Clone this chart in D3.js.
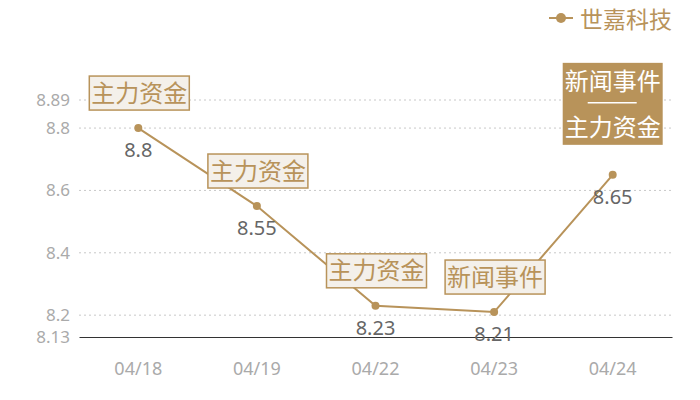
<!DOCTYPE html>
<html>
<head>
<meta charset="utf-8">
<script src="https://cdn.jsdelivr.net/npm/d3@7"></script>
<style>
  body { margin: 0; background: #fff; }
  svg { font-family: "Noto Sans CJK SC", "Noto Sans", sans-serif; }
</style>
</head>
<body>
<div id="chart"></div>
<script>
const dates = ["04/18", "04/19", "04/22", "04/23", "04/24"];
const prices = [8.8, 8.55, 8.23, 8.21, 8.65];
const notes = [["主力资金"], ["主力资金"], ["主力资金"], ["新闻事件"], ["新闻事件", "主力资金"]];
const yTicks = [8.13, 8.2, 8.4, 8.6, 8.8, 8.89];
const seriesName = "世嘉科技";

const width = 700, height = 400;
const gold = "#b8935a";

const svg = d3.select("#chart").append("svg")
    .attr("width", width)
    .attr("height", height);

const x = d3.scaleBand()
    .domain(dates)
    .range([79, 672]);

const y = d3.scaleLinear()
    .domain([8.13, 8.89])
    .range([337, 100]);

// grid
svg.append("g")
    .selectAll("line")
    .data(yTicks.slice(1))
    .join("line")
    .attr("x1", 79).attr("x2", 672)
    .attr("y1", d => y(d)).attr("y2", d => y(d))
    .attr("stroke", "#c8c8c8")
    .attr("stroke-dasharray", "2,3");

// y axis labels
const yAxis = svg.append("g")
    .attr("transform", "translate(79,0)")
    .call(d3.axisLeft(y).tickValues(yTicks).tickSize(0).tickPadding(9).tickFormat(d => d));
yAxis.select(".domain").remove();
yAxis.selectAll("text")
    .attr("fill", "#aaa")
    .attr("font-size", 17)
    .attr("font-family", "Noto Sans, sans-serif");

// x axis
const xAxis = svg.append("g")
    .attr("transform", "translate(0,337)")
    .call(d3.axisBottom(x).tickSize(0).tickPadding(25));
xAxis.select(".domain").attr("stroke", "#333").attr("stroke-width", 1.2);
xAxis.selectAll("text")
    .attr("fill", "#aaa")
    .attr("font-size", 18)
    .attr("font-family", "Noto Sans, sans-serif");

const cx = d => x(d) + x.bandwidth() / 2;

// line
const line = d3.line()
    .x((d, i) => cx(dates[i]))
    .y(d => y(d));

svg.append("path")
    .datum(prices)
    .attr("d", line)
    .attr("fill", "none")
    .attr("stroke", gold)
    .attr("stroke-width", 2);

svg.append("g")
    .selectAll("circle")
    .data(prices)
    .join("circle")
    .attr("cx", (d, i) => cx(dates[i]))
    .attr("cy", d => y(d))
    .attr("r", 4)
    .attr("fill", gold);

// value labels
svg.append("g")
    .selectAll("text")
    .data(prices)
    .join("text")
    .attr("x", (d, i) => cx(dates[i]))
    .attr("y", d => y(d) + 29)
    .attr("text-anchor", "middle")
    .attr("fill", "#666")
    .attr("font-size", 20)
    .attr("font-family", "Noto Sans, sans-serif")
    .text(d => d);

// annotation boxes
const boxes = svg.append("g")
    .selectAll("g")
    .data(prices)
    .join("g")
    .attr("transform", (d, i) => `translate(${cx(dates[i])},${y(d)})`);

boxes.each(function(d, i) {
    const g = d3.select(this);
    const lines = notes[i];
    const w = 100;
    if (lines.length === 1) {
        g.append("rect")
            .attr("x", -w / 2 + 1).attr("y", -52)
            .attr("width", w).attr("height", 34)
            .attr("fill", "#f4f0ea")
            .attr("stroke", gold)
            .attr("stroke-width", 1.5);
        g.append("text")
            .attr("x", 1).attr("y", -26.5)
            .attr("text-anchor", "middle")
            .attr("fill", gold)
            .attr("font-size", 24)
            .text(lines[0]);
    } else {
        g.append("rect")
            .attr("x", -w / 2).attr("y", -112)
            .attr("width", w).attr("height", 82)
            .attr("fill", gold);
        g.append("text")
            .attr("x", 0).attr("y", -85)
            .attr("text-anchor", "middle")
            .attr("fill", "#fff")
            .attr("font-size", 24)
            .text(lines[0]);
        g.append("line")
            .attr("x1", -25).attr("x2", 24)
            .attr("y1", -72).attr("y2", -72)
            .attr("stroke", "#fff")
            .attr("stroke-width", 1.5);
        g.append("text")
            .attr("x", 0).attr("y", -39)
            .attr("text-anchor", "middle")
            .attr("fill", "#fff")
            .attr("font-size", 24)
            .text(lines[1]);
    }
});

// legend
const legend = svg.append("g").attr("transform", "translate(549,18)");
legend.append("line")
    .attr("x1", 0).attr("x2", 24)
    .attr("stroke", gold).attr("stroke-width", 2);
legend.append("circle")
    .attr("cx", 12).attr("r", 5)
    .attr("fill", gold);
legend.append("text")
    .attr("x", 31).attr("y", 0)
    .attr("dominant-baseline", "central")
    .attr("fill", gold)
    .attr("font-size", 23)
    .text(seriesName);
</script>
</body>
</html>
